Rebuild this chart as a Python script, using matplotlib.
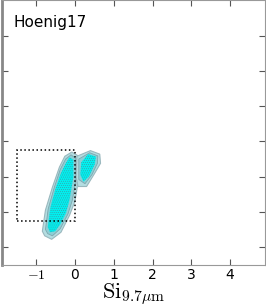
#! /usr/bin/env python3
import matplotlib
matplotlib.use("Agg")
import matplotlib.pyplot as plt
from matplotlib.patches import Polygon, Rectangle

plt.rcParams['mathtext.fontset'] = 'cm'
plt.rcParams['hatch.linewidth'] = 0.4

# contour outlines of the two blobs (data units)
main_outer_x = [-0.84, -0.76, -0.58, -0.40, -0.26, -0.08, 0.07, 0.06, 0.0, -0.14, -0.36, -0.60, -0.78]
main_outer_y = [0.45, 1.05, 1.70, 2.27, 2.58, 2.70, 2.60, 1.70, 1.30, 0.90, 0.42, 0.22, 0.32]
main_mid_x = [-0.76, -0.69, -0.53, -0.38, -0.24, -0.10, 0.02, 0.01, -0.07, -0.18, -0.38, -0.58, -0.70]
main_mid_y = [0.50, 1.08, 1.70, 2.20, 2.50, 2.62, 2.52, 1.80, 1.32, 0.94, 0.52, 0.32, 0.38]
main_inner_x = [-0.70, -0.63, -0.49, -0.36, -0.23, -0.14, -0.04, -0.04, -0.14, -0.23, -0.38, -0.51, -0.64]
main_inner_y = [0.57, 1.14, 1.70, 2.10, 2.39, 2.55, 2.48, 1.99, 1.34, 0.97, 0.64, 0.45, 0.42]
side_outer_x = [0.05, 0.40, 0.64, 0.66, 0.50, 0.30, 0.08, 0.03]
side_outer_y = [2.58, 2.74, 2.64, 2.38, 2.08, 1.72, 1.72, 1.99]
side_mid_x = [0.10, 0.38, 0.59, 0.58, 0.44, 0.26, 0.10]
side_mid_y = [2.50, 2.68, 2.59, 2.38, 2.06, 1.80, 1.92]
side_inner_x = [0.16, 0.34, 0.54, 0.51, 0.36, 0.22, 0.14]
side_inner_y = [2.40, 2.64, 2.57, 2.35, 2.00, 1.86, 2.05]

# selection box
box_x = [-1.5, 0.0]
box_y = [0.75, 2.75]

xticks = [-1, 0, 1, 2, 3, 4]
yticks = [0, 1, 2, 3, 4, 5, 6]

fig = plt.figure(figsize=(2.66, 3.08), dpi=100)
ax = fig.add_axes([2/266, 43/308, 263/266, 265/308])

for xs, ys in [(main_outer_x, main_outer_y), (side_outer_x, side_outer_y)]:
    ax.add_patch(Polygon(list(zip(xs, ys)), closed=True, facecolor='#b4dde1',
                         edgecolor='#9ab8be', linewidth=0.8, zorder=1))
for xs, ys in [(main_mid_x, main_mid_y), (side_mid_x, side_mid_y)]:
    ax.add_patch(Polygon(list(zip(xs, ys)), closed=True, facecolor='#8ccfd6',
                         edgecolor='#7fa6ad', linewidth=0.6, zorder=1.5))
for xs, ys in [(main_inner_x, main_inner_y), (side_inner_x, side_inner_y)]:
    ax.add_patch(Polygon(list(zip(xs, ys)), closed=True, facecolor='#00f0f0',
                         edgecolor='#3a9ea4', linewidth=0.0, hatch='........', zorder=2))

ax.add_patch(Rectangle((box_x[0], box_y[0]), box_x[1]-box_x[0], box_y[1]-box_y[0],
                       fill=False, edgecolor='black', linestyle=':', linewidth=1.1, zorder=3))

ax.set_xlim(-1.88, 4.9)
ax.set_ylim(-0.51, 7.02)
ax.set_xticks(xticks)
ax.set_xticklabels([r'$-1$' if t < 0 else str(t) for t in xticks])
ax.set_yticks(yticks)
ax.set_yticklabels([])
ax.tick_params(direction='in', top=True, right=True, length=4, width=0.8,
               labelsize=10, pad=2, color='#555555')
for side in ['top', 'right', 'bottom']:
    ax.spines[side].set_color('#999999')
    ax.spines[side].set_linewidth(0.8)
ax.spines['left'].set_color('#888888')
ax.spines['left'].set_linewidth(2.0)

ax.text(0.042, 0.945, 'Hoenig17', transform=ax.transAxes, fontsize=11,
        ha='left', va='top')
ax.set_xlabel(r'$\mathrm{Si}_{9.7\mu\mathrm{m}}$', fontsize=16, labelpad=0)

fig.savefig('out.png', dpi=100)
